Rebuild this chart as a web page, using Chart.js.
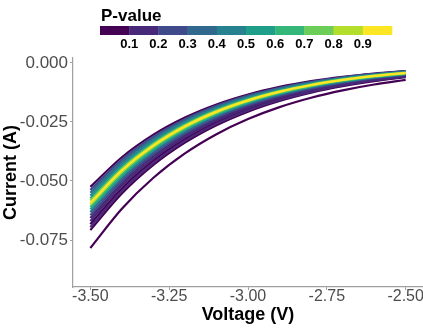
<!DOCTYPE html>
<html><head><meta charset="utf-8">
<script src="https://cdn.jsdelivr.net/npm/chart.js@4/dist/chart.umd.min.js"></script>
<style>html,body{margin:0;padding:0;background:#fff;} #wrap{width:423px;height:328px;}</style>
</head><body><div id="wrap"><canvas id="c" width="423" height="328"></canvas></div>
<script>
// Voltage sample points (V)
const voltage = [-3.5, -3.4, -3.3, -3.2, -3.1, -3.0, -2.9, -2.8, -2.7, -2.6, -2.5];
// Current curves (A)
const curve01 = [-0.0525, -0.03993, -0.03037, -0.02310, -0.01757, -0.01336, -0.01016, -0.00773, -0.00588, -0.00447, -0.00340];
const curve02 = [-0.0538, -0.04100, -0.03124, -0.02380, -0.01814, -0.01382, -0.01054, -0.00803, -0.00612, -0.00466, -0.00355];
const curve03 = [-0.0550, -0.04199, -0.03205, -0.02447, -0.01868, -0.01426, -0.01088, -0.00831, -0.00634, -0.00484, -0.00370];
const curve04 = [-0.0562, -0.04298, -0.03287, -0.02514, -0.01922, -0.01470, -0.01124, -0.00860, -0.00657, -0.00502, -0.00384];
const curve05 = [-0.0573, -0.04389, -0.03361, -0.02574, -0.01972, -0.01510, -0.01157, -0.00886, -0.00678, -0.00519, -0.00398];
const curve06 = [-0.0583, -0.04472, -0.03430, -0.02631, -0.02018, -0.01548, -0.01188, -0.00911, -0.00699, -0.00536, -0.00411];
const curve07 = [-0.0592, -0.04547, -0.03493, -0.02683, -0.02061, -0.01583, -0.01216, -0.00934, -0.00717, -0.00551, -0.00423];
const curve08 = [-0.0600, -0.04614, -0.03548, -0.02728, -0.02099, -0.01614, -0.01241, -0.00954, -0.00734, -0.00564, -0.00434];
const curve09 = [-0.0610, -0.04698, -0.03618, -0.02786, -0.02146, -0.01653, -0.01273, -0.00980, -0.00755, -0.00581, -0.00448];
const curve10 = [-0.0620, -0.04781, -0.03688, -0.02844, -0.02193, -0.01691, -0.01305, -0.01006, -0.00776, -0.00598, -0.00462];
const curve11 = [-0.0632, -0.04883, -0.03773, -0.02915, -0.02252, -0.01740, -0.01345, -0.01039, -0.00803, -0.00620, -0.00479];
const curve12 = [-0.0645, -0.04993, -0.03865, -0.02992, -0.02317, -0.01794, -0.01388, -0.01074, -0.00832, -0.00644, -0.00499];
const curve13 = [-0.0657, -0.05095, -0.03951, -0.03064, -0.02376, -0.01843, -0.01429, -0.01108, -0.00859, -0.00666, -0.00517];
const curve14 = [-0.0670, -0.05205, -0.04044, -0.03142, -0.02441, -0.01896, -0.01474, -0.01145, -0.00889, -0.00691, -0.00537];
const curve15 = [-0.0683, -0.05317, -0.04139, -0.03222, -0.02508, -0.01952, -0.01520, -0.01183, -0.00921, -0.00717, -0.00558];
const curve16 = [-0.0696, -0.05428, -0.04234, -0.03302, -0.02575, -0.02008, -0.01567, -0.01222, -0.00953, -0.00743, -0.00580];
const curve17 = [-0.0708, -0.05532, -0.04322, -0.03377, -0.02638, -0.02061, -0.01610, -0.01258, -0.00983, -0.00768, -0.00600];
const curve18 = [-0.0784, -0.06175, -0.04863, -0.03830, -0.03017, -0.02376, -0.01871, -0.01474, -0.01161, -0.00914, -0.00720];
// P-value of each curve
const pValues = [0.05, 0.25, 0.35, 0.45, 0.55, 0.75, 0.95, 0.85, 0.65, 0.55, 0.35, 0.25, 0.15, 0.12, 0.04, 0.11, 0.03, 0.02];
// Axis ticks
const xTicks = [-3.5, -3.25, -3.0, -2.75, -2.5];
const yTicks = [0, -0.025, -0.05, -0.075];
// Colour bar
const legendBreaks = [0.1, 0.2, 0.3, 0.4, 0.5, 0.6, 0.7, 0.8, 0.9];
const viridis10 = ['#440154', '#482878', '#3E4A89', '#31688E', '#26828E', '#1F9E89', '#35B779', '#6DCD59', '#B4DE2C', '#FDE725'];

const curves = [curve01, curve02, curve03, curve04, curve05, curve06, curve07, curve08, curve09,
  curve10, curve11, curve12, curve13, curve14, curve15, curve16, curve17, curve18];

function colorFor(p) { return viridis10[Math.min(9, Math.floor(p * 10))]; }

const datasets = curves.map((vals, i) => ({
  data: voltage.map((v, j) => ({ x: v, y: vals[j] })),
  borderColor: colorFor(pValues[i]),
  borderWidth: 2.2,
  pointRadius: 0,
  fill: false,
  cubicInterpolationMode: 'monotone',
  order: Math.round((1 - pValues[i]) * 100)
}));

const FONT = "'Liberation Sans', Arial, sans-serif";

const colorBarPlugin = {
  id: 'colorBar',
  afterDraw(chart) {
    const ctx = chart.ctx;
    ctx.save();
    ctx.fillStyle = '#000';
    ctx.font = "bold 17px " + FONT;
    ctx.textAlign = 'left';
    ctx.textBaseline = 'alphabetic';
    ctx.fillText('P-value', 101, 21);
    const x0 = 100, w = 29.2, y0 = 26, h = 9;
    viridis10.forEach((c, i) => {
      ctx.fillStyle = c;
      ctx.fillRect(x0 + i * w, y0, w + 0.3, h);
    });
    ctx.fillStyle = '#000';
    ctx.font = "bold 13px " + FONT;
    ctx.textAlign = 'center';
    ctx.textBaseline = 'middle';
    legendBreaks.forEach((b, i) => {
      ctx.fillText(b.toFixed(1), x0 + (i + 1) * w, 44);
    });
    ctx.restore();
  }
};

const bgPlugin = {
  id: 'bg',
  beforeDraw(chart) {
    const ctx = chart.ctx;
    ctx.save(); ctx.fillStyle = '#fff'; ctx.fillRect(0, 0, chart.width, chart.height); ctx.restore();
  }
};

new Chart(document.getElementById('c'), {
  type: 'line',
  data: { datasets },
  options: {
    responsive: false,
    animation: false,
    devicePixelRatio: 1,
    layout: { padding: { top: 58, right: 0, left: 0, bottom: 0 } },
    plugins: { legend: { display: false }, tooltip: { enabled: false } },
    scales: {
      x: {
        type: 'linear',
        min: -3.555, max: -2.445,
        afterBuildTicks: s => { s.ticks = xTicks.map(v => ({ value: v })); },
        afterFit: s => { s.height = 41; },
        ticks: {
          callback: v => v.toFixed(2),
          autoSkip: false, maxRotation: 0,
          color: '#4d4d4d',
          font: { family: FONT, size: 16 },
          padding: -3
        },
        grid: { drawOnChartArea: false, color: '#a0a0a0', tickLength: 3, lineWidth: 1 },
        border: { color: '#a0a0a0', width: 1.2 },
        title: { display: true, text: 'Voltage (V)', color: '#000',
          font: { family: FONT, size: 18, weight: 'bold' }, padding: { top: 0, bottom: 2 } }
      },
      y: {
        type: 'linear',
        min: -0.0949, max: 0.0021,
        afterBuildTicks: s => { s.ticks = yTicks.map(v => ({ value: v })); },
        afterFit: s => { s.width = 73; },
        ticks: {
          callback: v => v.toFixed(3),
          autoSkip: false,
          color: '#4d4d4d',
          font: { family: FONT, size: 17 },
          padding: 2
        },
        grid: { drawOnChartArea: false, color: '#a0a0a0', tickLength: 3, lineWidth: 1 },
        border: { color: '#a0a0a0', width: 1.2 },
        title: { display: true, text: 'Current (A)', color: '#000',
          font: { family: FONT, size: 18, weight: 'bold' }, padding: { top: 0, bottom: 0 } }
      }
    }
  },
  plugins: [bgPlugin, colorBarPlugin]
});
</script></body></html>
